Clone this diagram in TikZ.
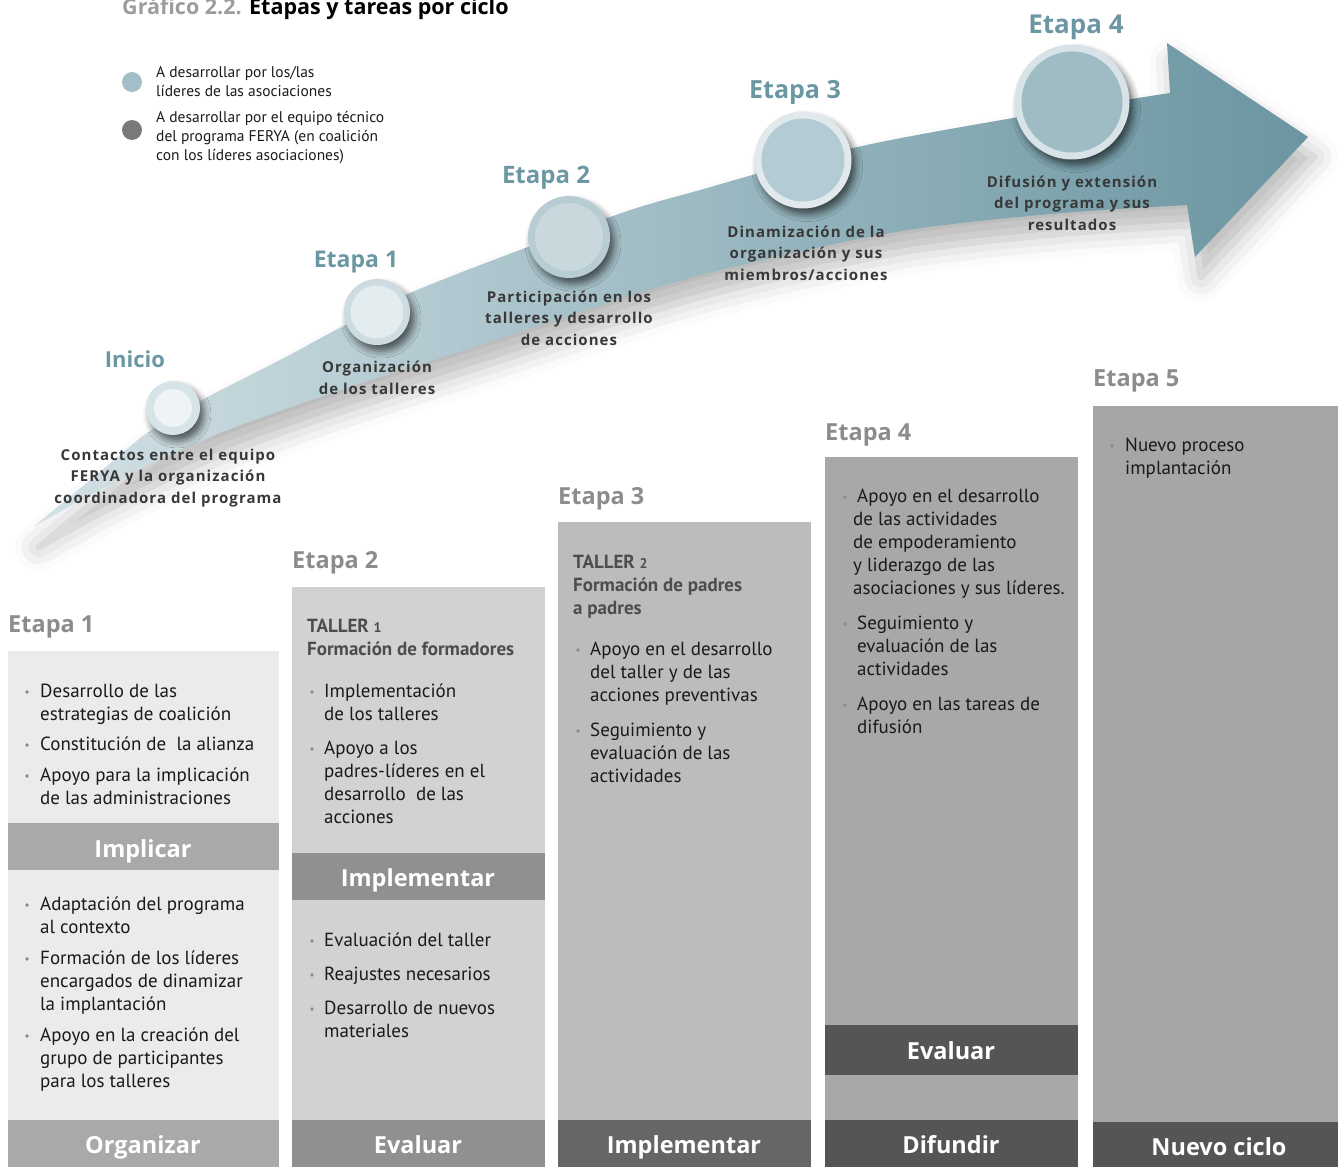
\documentclass[tikz,border=0pt]{standalone}
\usepackage{fontspec}
\setmainfont{PT Sans}
\newfontfamily\headfont{Open Sans}
\newfontfamily\descfont[LetterSpace=7]{Open Sans}
\usetikzlibrary{shadows.blur}

% palette
\definecolor{ribL}{HTML}{D3E1E6}
\definecolor{ribR}{HTML}{6A95A1}
\definecolor{tealtxt}{HTML}{6B97A3}
\definecolor{desctxt}{HTML}{383838}
\definecolor{etapagray}{HTML}{8C8C8C}
\definecolor{bodytxt}{HTML}{1A1A1A}
\definecolor{tallertxt}{HTML}{4D4D4D}
\definecolor{bulletc}{HTML}{8A8A8A}
\definecolor{titlegray}{HTML}{9D9D9D}
\definecolor{legA}{HTML}{A2BFC8}
\definecolor{legB}{HTML}{7A7A7A}
\definecolor{colA}{HTML}{EBEBEB}
\definecolor{barA}{HTML}{A9A9A9}
\definecolor{colB}{HTML}{D1D2D2}
\definecolor{barB}{HTML}{8F908F}
\definecolor{colC}{HTML}{BBBCBD}
\definecolor{barC}{HTML}{666666}
\definecolor{colD}{HTML}{A8A8A8}
\definecolor{barD}{HTML}{555555}
\definecolor{colE}{HTML}{A6A6A6}
\definecolor{ringA}{HTML}{D6E3E7}
\definecolor{inA}{HTML}{EEF3F5}
\definecolor{ringB}{HTML}{CDDCE1}
\definecolor{inB}{HTML}{E3ECEF}
\definecolor{ringC}{HTML}{B7CCD3}
\definecolor{inC}{HTML}{C8D8DD}
\definecolor{ringD}{HTML}{E1E9EC}
\definecolor{inD}{HTML}{B3CBD3}
\definecolor{ringE}{HTML}{D8E3E7}
\definecolor{inE}{HTML}{9FBBC4}

\newcommand\bodyfs{\fontsize{19}{23}\selectfont}
% bullet dot; text nodes are anchored on the baseline of their last line
\newcommand\bul[2]{\fill[bulletc] (#1,#2) circle (1.9);}

\begin{document}
\begin{tikzpicture}[x=1pt,y=-1pt,
  body/.style={anchor=base west, align=left, inner sep=0pt, font=\bodyfs, text=bodytxt},
  taller/.style={anchor=base west, align=left, inner sep=0pt, font=\bodyfs\bfseries, text=tallertxt},
  barlabel/.style={anchor=base, inner sep=0pt, font=\headfont\bfseries\fontsize{23.5}{28}\selectfont, text=white},
  etapa/.style={anchor=base west, inner sep=0pt, font=\headfont\bfseries\fontsize{23.5}{28}\selectfont, text=etapagray},
  arrlabel/.style={anchor=base, inner sep=0pt, font=\headfont\bfseries\fontsize{#1}{28}\selectfont, text=tealtxt},
  desc/.style={anchor=base, align=center, inner sep=0pt, font=\descfont\bfseries\fontsize{15}{21.5}\selectfont, text=desctxt},
  legend/.style={anchor=base west, align=left, inner sep=0pt, font=\fontsize{15.5}{19}\selectfont, text=bodytxt},
  ring/.style={circle, inner sep=0pt, minimum size=#1,
    blur shadow={shadow xshift=4pt, shadow yshift=-6pt, shadow blur radius=7pt, shadow opacity=60}},
  disc/.style={circle, inner sep=0pt, minimum size=#1}]
\useasboundingbox (0,0) rectangle (1338,1167);

% title
\node[anchor=base west, inner sep=0pt, font=\headfont\bfseries\fontsize{21.5}{26}\selectfont] (title) at (122,14)
  {\textcolor{titlegray}{Gráfico 2.2.} Etapas y tareas por ciclo};

% legend
\node[circle, fill=legA, minimum size=20pt, inner sep=0pt] (legdotA) at (132,82) {};
\node[circle, fill=legB, minimum size=20pt, inner sep=0pt] (legdotB) at (132,130) {};
\node[legend] (legtxtA) at (156,96) {A desarrollar por los/las\\líderes de las asociaciones};
\node[legend] (legtxtB) at (156,160) {A desarrollar por el equipo técnico\\del programa FERYA (en coalición\\con los líderes asociaciones)};

% rising ribbon with arrowhead
\path[blur shadow={shadow xshift=6pt, shadow yshift=-20pt, shadow blur radius=24pt, shadow opacity=28},
      left color=ribL, right color=ribR]
  plot[smooth, tension=0.5] coordinates {(33,527) (100,472) (147,433) (200,401) (280,360) (410,293) (610,217) (700,190) (853,148) (1013,118) (1170,93)}
  -- (1167,43) -- (1308,137) -- (1195,257) -- (1187,205)
  -- plot[smooth, tension=0.5] coordinates {(1187,205) (1050,214) (890,233) (690,278) (480,345) (320,397) (200,441) (100,490) (33,527)}
  -- cycle;

% stage markers
\node[ring=54pt, fill=ringA] (m0) at (173,408) {};
\node[disc=38pt, fill=inA] (m0in) at (m0.center) {};
\node[ring=66pt, fill=ringB] (m1) at (377,312) {};
\node[disc=53pt, fill=inB] (m1in) at (m1.center) {};
\node[ring=82pt, fill=ringC] (m2) at (569,237) {};
\node[disc=68pt, fill=inC] (m2in) at (m2.center) {};
\node[ring=97pt, fill=ringD] (m3) at (803,160) {};
\node[disc=83pt, fill=inD] (m3in) at (m3.center) {};
\node[ring=115pt, fill=ringE] (m4) at (1072,102) {};
\node[disc=101pt, fill=inE] (m4in) at (m4.center) {};

% stage names on the ribbon
\node[arrlabel=22] (l0) at (135,367) {Inicio};
\node[arrlabel=23] (l1) at (356,267) {Etapa 1};
\node[arrlabel=24] (l2) at (546,183) {Etapa 2};
\node[arrlabel=25] (l3) at (795,98) {Etapa 3};
\node[arrlabel=26] (l4) at (1076,33) {Etapa 4};

% stage descriptions
\node[desc] (d0) at (168,503) {Contactos entre el equipo\\FERYA y la organización\\coordinadora del programa};
\node[desc] (d1) at (377,394) {Organización\\de los talleres};
\node[desc] (d2) at (569,345) {Participación en los\\talleres y desarrollo\\de acciones};
\node[desc] (d3) at (806,280) {Dinamización de la\\organización y sus\\miembros/acciones};
\node[desc] (d4) at (1072,230) {Difusión y extensión\\del programa y sus\\resultados};

% column 1
\fill[colA] (8,651) rectangle (279,823);
\fill[barA] (8,823) rectangle (279,870);
\fill[colA] (8,870) rectangle (279,1120);
\fill[barA] (8,1120) rectangle (279,1167);
\node[etapa] (e1) at (8,632) {Etapa 1};
\bul{27}{692}\node[body] (c1a) at (40,720) {Desarrollo de las\\estrategias de coalición};
\bul{27}{745}\node[body] (c1b) at (40,750) {Constitución de\ \ la alianza};
\bul{27}{776}\node[body] (c1c) at (40,804) {Apoyo para la implicación\\de las administraciones};
\node[barlabel] (b1a) at (143,857) {Implicar};
\bul{27}{905}\node[body] (c1d) at (40,933) {Adaptación del programa\\al contexto};
\bul{27}{959}\node[body] (c1e) at (40,1010) {Formación de los líderes\\encargados de dinamizar\\la implantación};
\bul{27}{1036}\node[body] (c1f) at (40,1087) {Apoyo en la creación del\\grupo de participantes\\para los talleres};
\node[barlabel] (b1b) at (143,1153) {Organizar};

% column 2
\fill[colB] (292,587) rectangle (545,853);
\fill[barB] (292,853) rectangle (545,900);
\fill[colB] (292,900) rectangle (545,1120);
\fill[barB] (292,1120) rectangle (545,1167);
\node[etapa] (e2) at (292,568) {Etapa 2};
\node[taller] (t1) at (307,655) {TALLER {\fontsize{14}{23}\selectfont 1}\\Formación de formadores};
\bul{312}{692}\node[body] (c2a) at (324,720) {Implementación\\de los talleres};
\bul{312}{749}\node[body] (c2b) at (324,823) {Apoyo a los\\padres-líderes en el\\desarrollo\ \ de las\\acciones};
\node[barlabel] (b2a) at (418,886) {Implementar};
\bul{312}{941}\node[body] (c2c) at (324,946) {Evaluación del taller};
\bul{312}{975}\node[body] (c2d) at (324,980) {Reajustes necesarios};
\bul{312}{1009}\node[body] (c2e) at (324,1037) {Desarrollo de nuevos\\materiales};
\node[barlabel] (b2b) at (418,1153) {Evaluar};

% column 3
\fill[colC] (558,522) rectangle (811,1120);
\fill[barC] (558,1120) rectangle (811,1167);
\node[etapa] (e3) at (558,504) {Etapa 3};
\node[taller] (t2) at (573,614) {TALLER {\fontsize{14}{23}\selectfont 2}\\Formación de padres\\a padres};
\bul{578}{650}\node[body] (c3a) at (590,701) {Apoyo en el desarrollo\\del taller y de las\\acciones preventivas};
\bul{578}{731}\node[body] (c3b) at (590,782) {Seguimiento y\\evaluación de las\\actividades};
\node[barlabel] (b3) at (684,1153) {Implementar};

% column 4
\fill[colD] (825,457) rectangle (1078,1025);
\fill[barD] (825,1025) rectangle (1078,1075);
\fill[colD] (825,1075) rectangle (1078,1120);
\fill[barD] (825,1120) rectangle (1078,1167);
\node[etapa] (e4) at (825,440) {Etapa 4};
\bul{845}{497}\node[body] (c4a) at (853,594) {\hspace*{4pt}Apoyo en el desarrollo\\de las actividades\\de empoderamiento\\y liderazgo de las\\asociaciones y sus líderes.};
\bul{845}{624}\node[body] (c4b) at (857,675) {Seguimiento y\\evaluación de las\\actividades};
\bul{845}{705}\node[body] (c4c) at (857,733) {Apoyo en las tareas de\\difusión};
\node[barlabel] (b4a) at (951,1059) {Evaluar};
\node[barlabel] (b4b) at (951,1153) {Difundir};

% column 5
\fill[colE] (1093,406) rectangle (1338,1122);
\fill[barD] (1093,1122) rectangle (1338,1167);
\node[etapa] (e5) at (1093,386) {Etapa 5};
\bul{1112}{446}\node[body] (c5a) at (1125,474) {Nuevo proceso\\implantación};
\node[barlabel] (b5) at (1219,1155) {Nuevo ciclo};

\end{tikzpicture}
\end{document}
